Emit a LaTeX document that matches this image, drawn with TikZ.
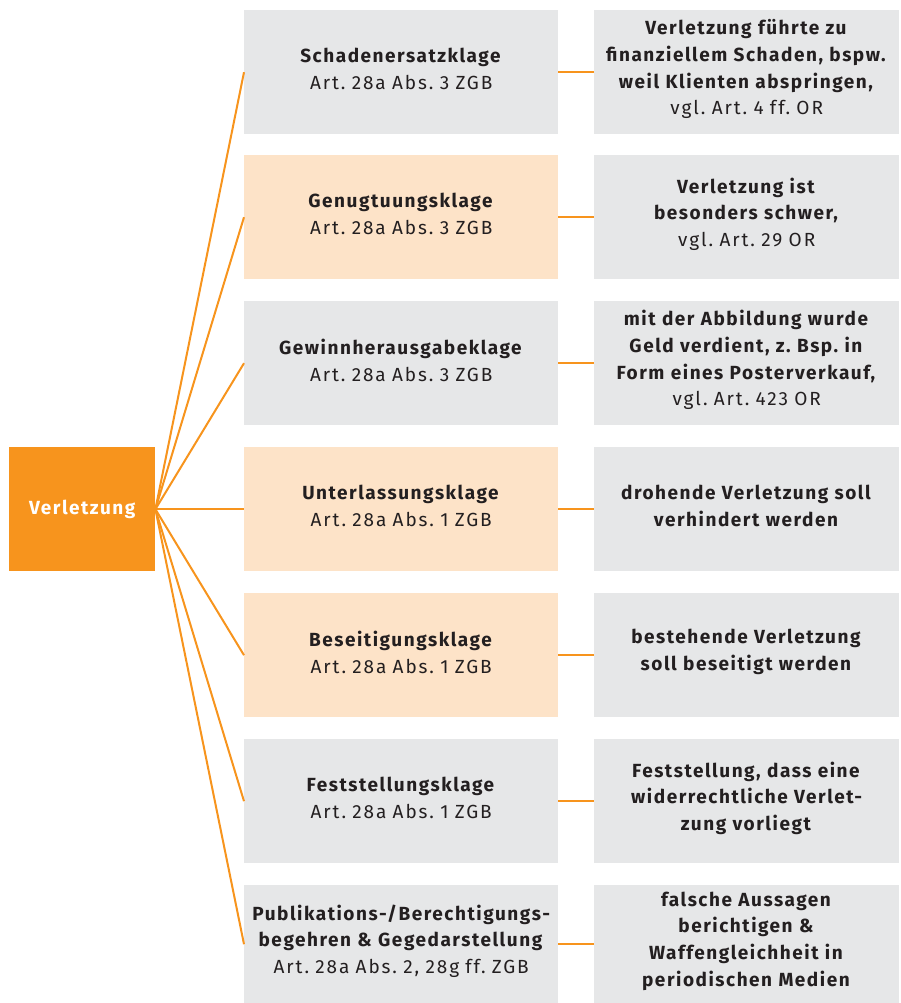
\documentclass[tikz,border=0pt]{standalone}
\usepackage{fontspec}
\setmainfont{Fira Sans}[LetterSpace=10, BoldFeatures={LetterSpace=8}]
\frenchspacing
\definecolor{vorange}{HTML}{F7941D}
\definecolor{vpeach}{HTML}{FDE3C8}
\definecolor{vgray}{HTML}{E6E7E8}
\definecolor{vtext}{HTML}{231F20}
\tikzset{
  box/.style={anchor=north west, inner sep=0pt, minimum height=124pt, text width=#1, align=center, text=vtext, font=\fontsize{19}{26.7}\selectfont, execute at end node={\par\vspace{6pt}}},
  midbox/.style={box=314pt, minimum width=314pt},
  rightbox/.style={box=305pt, minimum width=305pt, fill=vgray},
  graybox/.style={midbox, fill=vgray},
  peachbox/.style={midbox, fill=vpeach},
  conn/.style={draw=vorange, line width=2pt},
}
\begin{document}
\begin{tikzpicture}[x=1pt,y=-1pt]
\useasboundingbox (0,0) rectangle (900,1003);
\node[anchor=north west, inner sep=0pt, minimum width=146pt, minimum height=124pt, fill=vorange, text=white, font=\fontsize{19}{26.7}\selectfont\bfseries] (v) at (9,447) {Verletzung};

\node[graybox] (m1) at (244,10) {\textbf{Schadenersatzklage}\\Art. 28a Abs. 3 ZGB};
\node[peachbox] (m2) at (244,155) {\textbf{Genugtuungsklage}\\Art. 28a Abs. 3 ZGB};
\node[graybox] (m3) at (244,301) {\textbf{Gewinnherausgabeklage}\\Art. 28a Abs. 3 ZGB};
\node[peachbox] (m4) at (244,447) {\textbf{Unterlassungsklage}\\Art. 28a Abs. 1 ZGB};
\node[peachbox] (m5) at (244,593) {\textbf{Beseitigungsklage}\\Art. 28a Abs. 1 ZGB};
\node[graybox] (m6) at (244,739) {\textbf{Feststellungsklage}\\Art. 28a Abs. 1 ZGB};
\node[graybox, minimum height=118pt] (m7) at (244,885) {\textbf{Publikations-/Berechtigungs-}\\\textbf{begehren \& Gegedarstellung}\\Art. 28a Abs. 2, 28g ff. ZGB};

\node[rightbox] (r1) at (594,10) {\textbf{Verletzung führte zu}\\\textbf{finanziellem Schaden, bspw.}\\\textbf{weil Klienten abspringen,}\\vgl. Art. 4 ff. OR};
\node[rightbox] (r2) at (594,155) {\textbf{Verletzung ist}\\\textbf{besonders schwer,}\\vgl. Art. 29 OR};
\node[rightbox] (r3) at (594,301) {\textbf{mit der Abbildung wurde}\\\textbf{Geld verdient, z. Bsp. in}\\\textbf{Form eines Posterverkauf,}\\vgl. Art. 423 OR};
\node[rightbox] (r4) at (594,447) {\textbf{drohende Verletzung soll}\\\textbf{verhindert werden}};
\node[rightbox] (r5) at (594,593) {\textbf{bestehende Verletzung}\\\textbf{soll beseitigt werden}};
\node[rightbox] (r6) at (594,739) {\textbf{Feststellung, dass eine}\\\textbf{widerrechtliche Verlet-}\\\textbf{zung vorliegt}};
\node[rightbox, minimum height=118pt] (r7) at (594,885) {\textbf{falsche Aussagen}\\\textbf{berichtigen \&}\\\textbf{Waffengleichheit in}\\\textbf{periodischen Medien}};

\foreach \i in {1,...,7}{
  \draw[conn] (v.east) -- (m\i.west);
  \draw[conn] (m\i.east) -- (r\i.west);
}
\end{tikzpicture}
\end{document}
